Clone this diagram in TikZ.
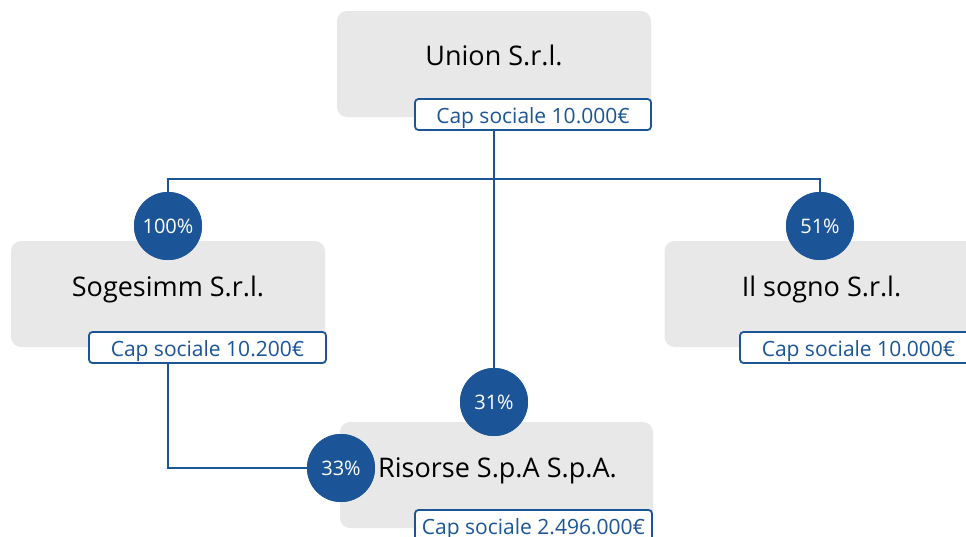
\documentclass[tikz,border=0pt]{standalone}
\usepackage{fontspec}
\setmainfont{Open Sans}
\definecolor{boxgray}{HTML}{E8E8E8}
\definecolor{dblue}{HTML}{1B5597}
\newcommand{\basept}[2]{\raisebox{#1}[0pt][0pt]{#2}}
\begin{document}
\begin{tikzpicture}[x=1pt,y=1pt,
  company/.style={rectangle, rounded corners=10pt, fill=boxgray, minimum width=314pt, minimum height=106pt, inner sep=0pt, font=\fontsize{27}{31}\selectfont, text=black},
  capbox/.style={rectangle, rounded corners=3.5pt, draw=dblue, line width=1.8pt, fill=white, minimum width=236pt, minimum height=31pt, inner sep=0pt, font=\fontsize{21}{24}\selectfont, text=dblue},
  pct/.style={circle, fill=dblue, minimum size=68pt, inner sep=0pt, font=\fontsize{20}{23}\selectfont, text=white},
  link/.style={draw=dblue, line width=1.8pt}
]
\useasboundingbox (0,0) rectangle (966,-536);
% companies
\node[company] (union) at (494,-64) {\basept{-1pt}{Union S.r.l.}};
\node[company] (sog) at (168,-294) {\basept{-2pt}{Sogesimm S.r.l.}};
\node[company] (sogno) at (821.5,-294) {\basept{-2pt}{Il sogno S.r.l.}};
\node[company, minimum width=313pt] (ris) at (496.5,-475) {\basept{-2pt}{\hspace*{2pt}Risorse S.p.A S.p.A.}};
% connectors
\coordinate (hub) at (494,-179);
\node[pct] (c100) at (168,-226) {100\%};
\node[pct] (c51) at (820,-226) {51\%};
\node[pct] (c31) at (494,-402) {31\%};
\node[pct] (c33) at (341,-468) {33\%};
\node[capbox] (ucap) at (533,-114.5) {\basept{-9pt}{Cap sociale 10.000€}};
\node[capbox, minimum width=237pt] (scap) at (207.5,-347.5) {\basept{-9pt}{Cap sociale 10.200€}};
\node[capbox, minimum width=237pt] (sgcap) at (858.5,-347.5) {\basept{-9pt}{Cap sociale 10.000€}};
\node[capbox, minimum width=237pt] (rcap) at (533.5,-525.5) {\basept{-9pt}{Cap sociale 2.496.000€}};
\draw[link] (union |- ucap.south) -- (hub);
\draw[link] (c100.north) |- (hub) -| (c51.north);
\draw[link] (hub) -- (c31.north);
\draw[link] (sog |- scap.south) |- (c33.west);
% circles on top of the connectors
\node[pct] at (c100) {100\%};
\node[pct] at (c51) {51\%};
\node[pct] at (c31) {31\%};
\node[pct] at (c33) {33\%};
\end{tikzpicture}
\end{document}
